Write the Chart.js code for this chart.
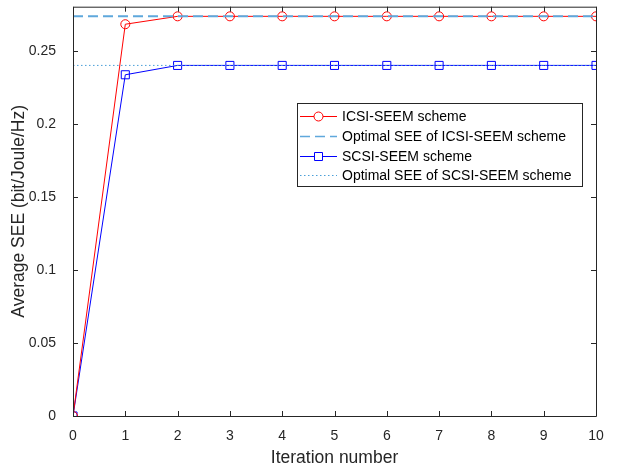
<!DOCTYPE html>
<html>
<head>
<meta charset="utf-8">
<script src="https://cdn.jsdelivr.net/npm/chart.js@4"></script>
<style>
  html, body { margin: 0; padding: 0; background: #fff; }
  #wrap { width: 627px; height: 470px; }
</style>
</head>
<body>
<div id="wrap"><canvas id="seeChart" width="627" height="470"></canvas></div>
<script>
// 数据
var iterations = [0, 1, 2, 3, 4, 5, 6, 7, 8, 9, 10];
var icsiSee = [0, 0.2682, 0.2736, 0.2736, 0.2736, 0.2736, 0.2736, 0.2736, 0.2736, 0.2736, 0.2736];
var scsiSee = [0, 0.2336, 0.2400, 0.2400, 0.2400, 0.2400, 0.2400, 0.2400, 0.2400, 0.2400, 0.2400];
var optimalIcsi = 0.2736;
var optimalScsi = 0.2400;
var yTicks = [0, 0.05, 0.1, 0.15, 0.2, 0.25];
var xTicks = [0, 1, 2, 3, 4, 5, 6, 7, 8, 9, 10];

var axisColor = '#262626';
var fontFamily = '"Liberation Sans", Arial, sans-serif';

function toPoints(xs, ys) {
    return xs.map(function (x, i) { return { x: x, y: ys[i] }; });
}
function flat(v) {
    return [{ x: iterations[0], y: v }, { x: iterations[iterations.length - 1], y: v }];
}

// 坐标框、刻度线和图例
var framePlugin = {
    id: 'frame',
    afterDraw: function (chart) {
        var ctx = chart.ctx;
        var a = chart.chartArea;
        var xs = chart.scales.x, ys = chart.scales.y;
        ctx.save();
        ctx.strokeStyle = axisColor;
        ctx.lineWidth = 1;
        ctx.beginPath();
        ctx.rect(a.left + 0.5, a.top + 0.5, a.right - a.left, a.bottom - a.top);
        ctx.stroke();
        ctx.beginPath();
        xTicks.forEach(function (t) {
            var px = Math.round(xs.getPixelForValue(t)) + 0.5;
            ctx.moveTo(px, a.bottom); ctx.lineTo(px, a.bottom - 5);
            ctx.moveTo(px, a.top); ctx.lineTo(px, a.top + 5);
        });
        yTicks.forEach(function (t) {
            var py = Math.round(ys.getPixelForValue(t)) + 0.5;
            ctx.moveTo(a.left, py); ctx.lineTo(a.left + 5, py);
            ctx.moveTo(a.right, py); ctx.lineTo(a.right - 5, py);
        });
        ctx.stroke();

        // 图例
        var lx = 297, ly = 103, lw = 285, lh = 83;
        ctx.fillStyle = '#fff';
        ctx.fillRect(lx, ly, lw, lh);
        ctx.strokeStyle = axisColor;
        ctx.strokeRect(lx + 0.5, ly + 0.5, lw, lh);
        ctx.font = '14px ' + fontFamily;
        ctx.textBaseline = 'middle';
        var rowY = [116, 136, 156, 175];
        chart.data.datasets.forEach(function (ds, i) {
            var y = rowY[i] + 0.5;
            ctx.save();
            ctx.strokeStyle = ds.borderColor;
            ctx.lineWidth = Math.min(ds.borderWidth, 1.5);
            ctx.setLineDash(ds.borderDash || []);
            ctx.beginPath();
            ctx.moveTo(300, y); ctx.lineTo(337, y);
            ctx.stroke();
            ctx.setLineDash([]);
            if (ds.pointRadius > 0) {
                ctx.lineWidth = 1;
                ctx.beginPath();
                if (ds.pointStyle === 'rect') {
                    ctx.rect(314.5, y - 4, 8, 8);
                } else {
                    ctx.arc(318.5, y, 4.5, 0, Math.PI * 2);
                }
                ctx.fillStyle = '#fff';
                ctx.fill();
                ctx.stroke();
            }
            ctx.restore();
            ctx.fillStyle = '#000';
            ctx.fillText(ds.label, 342, rowY[i] + 1);
        });
        ctx.restore();
    }
};

var ctx = document.getElementById('seeChart').getContext('2d');
var seeChart = new Chart(ctx, {
    type: 'line',
    data: {
        datasets: [{
            label: 'ICSI-SEEM scheme',
            data: toPoints(iterations, icsiSee),
            borderColor: '#ff0000',
            borderWidth: 1,
            pointStyle: 'circle',
            pointRadius: 4.5,
            pointBorderWidth: 1,
            pointBorderColor: '#ff0000',
            pointBackgroundColor: 'rgba(0,0,0,0)',
            tension: 0,
            order: 2
        }, {
            label: 'Optimal SEE of ICSI-SEEM scheme',
            data: flat(optimalIcsi),
            borderColor: '#5fa8dc',
            borderWidth: 2,
            borderDash: [10, 5],
            pointRadius: 0,
            tension: 0,
            order: 1
        }, {
            label: 'SCSI-SEEM scheme',
            data: toPoints(iterations, scsiSee),
            borderColor: '#0000ff',
            borderWidth: 1,
            pointStyle: 'rect',
            pointRadius: 5.7,
            pointBorderWidth: 1,
            pointBorderColor: '#0000ff',
            pointBackgroundColor: 'rgba(0,0,0,0)',
            tension: 0,
            order: 4
        }, {
            label: 'Optimal SEE of SCSI-SEEM scheme',
            data: flat(optimalScsi),
            borderColor: '#4a9fd8',
            borderWidth: 1,
            borderDash: [1.5, 2.5],
            pointRadius: 0,
            tension: 0,
            order: 3
        }]
    },
    options: {
        responsive: false,
        animation: false,
        layout: { padding: { top: 5, right: 31, left: 0, bottom: 0 } },
        plugins: {
            legend: { display: false },
            tooltip: { enabled: false }
        },
        scales: {
            x: {
                type: 'linear',
                min: 0,
                max: 10,
                afterBuildTicks: function (axis) {
                    axis.ticks = xTicks.map(function (v) { return { value: v }; });
                },
                afterFit: function (scale) {
                    scale.height = 54;
                    scale.paddingLeft = 0;
                    scale.paddingRight = 0;
                },
                grid: { display: false },
                border: { display: false },
                ticks: {
                    padding: 4,
                    color: axisColor,
                    font: { family: fontFamily, size: 14 },
                    maxRotation: 0
                },
                title: {
                    display: true,
                    text: 'Iteration number',
                    color: axisColor,
                    font: { family: fontFamily, size: 17.5 },
                    padding: { top: 0, bottom: 1 }
                }
            },
            y: {
                min: 0,
                max: 0.2802,
                afterBuildTicks: function (axis) {
                    axis.ticks = yTicks.map(function (v) { return { value: v }; });
                },
                afterFit: function (scale) {
                    scale.width = 73;
                    scale.paddingTop = 0;
                    scale.paddingBottom = 0;
                },
                grid: { display: false },
                border: { display: false },
                ticks: {
                    padding: 9,
                    color: axisColor,
                    font: { family: fontFamily, size: 14 },
                    callback: function (v) { return String(Math.round(v * 100) / 100); }
                },
                title: {
                    display: true,
                    text: 'Average SEE (bit/Joule/Hz)',
                    color: axisColor,
                    font: { family: fontFamily, size: 17.5 },
                    padding: { top: 9, bottom: 0 }
                }
            }
        }
    },
    plugins: [framePlugin]
});
</script>
</body>
</html>
